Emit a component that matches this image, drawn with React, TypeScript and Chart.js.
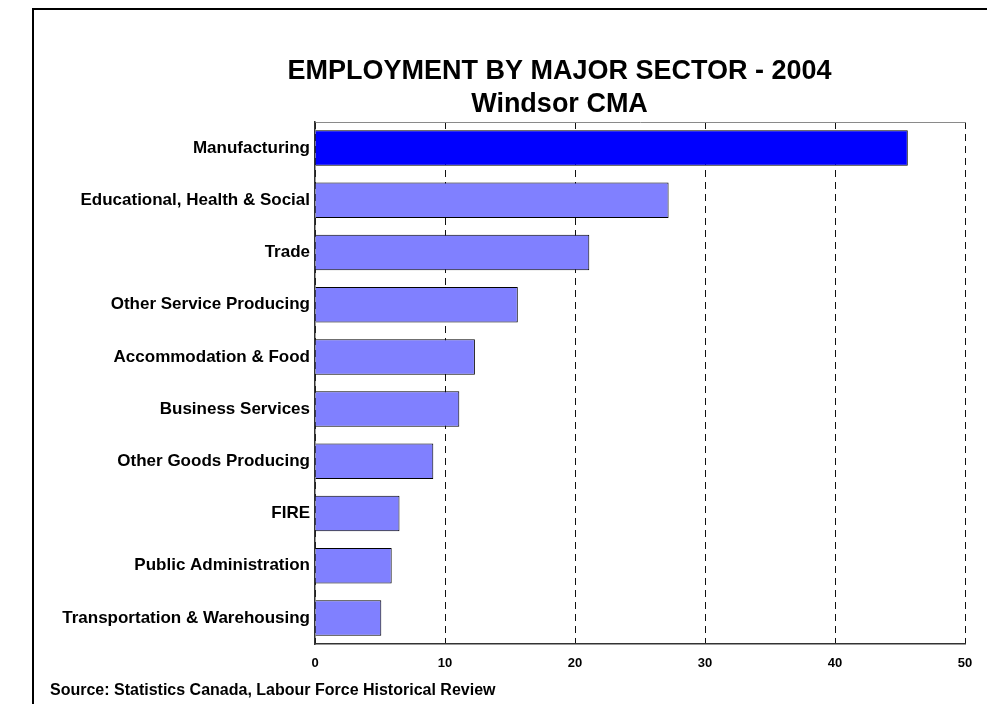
import React, { useEffect, useRef } from "react";
import { Chart, registerables } from "chart.js";

Chart.register(...registerables);

const titleLines = ["EMPLOYMENT BY MAJOR SECTOR - 2004", "Windsor CMA"];
const sourceText = "Source: Statistics Canada, Labour Force Historical Review";

const categories = [
  "Manufacturing",
  "Educational, Health & Social",
  "Trade",
  "Other Service Producing",
  "Accommodation & Food",
  "Business Services",
  "Other Goods Producing",
  "FIRE",
  "Public Administration",
  "Transportation & Warehousing",
];

const values = [45.6, 27.2, 21.1, 15.6, 12.3, 11.1, 9.1, 6.5, 5.9, 5.1];

const barColors = [
  "#0000FF",
  "#8080FF",
  "#8080FF",
  "#8080FF",
  "#8080FF",
  "#8080FF",
  "#8080FF",
  "#8080FF",
  "#8080FF",
  "#8080FF",
];

const xMin = 0;
const xMax = 50;
const xStep = 10;

const FONT = '"Liberation Sans", Arial, sans-serif';

const textPlugin = {
  id: "chartTexts",
  afterDraw(chart: any) {
    const ctx = chart.ctx;
    ctx.save();
    ctx.fillStyle = "#000";
    ctx.textBaseline = "alphabetic";
    ctx.textAlign = "center";
    ctx.font = `bold 27px ${FONT}`;
    ctx.fillText(titleLines[0], 525.5, 69);
    ctx.fillText(titleLines[1], 525.5, 102);
    ctx.font = `bold 16px ${FONT}`;
    ctx.textAlign = "left";
    ctx.textBaseline = "middle";
    ctx.fillText(sourceText, 16, 681);
    ctx.restore();
  },
};

export default function App() {
  const canvasRef = useRef<HTMLCanvasElement | null>(null);

  useEffect(() => {
    document.body.style.overflow = "hidden";
    const canvas = canvasRef.current;
    if (!canvas) return;
    const chart = new Chart(canvas, {
      type: "bar",
      data: {
        labels: categories,
        datasets: [
          {
            data: values,
            backgroundColor: barColors,
            borderColor: "#000",
            borderWidth: 1,
            barPercentage: 0.68,
            categoryPercentage: 1,
            xAxisID: "x",
          },
        ],
      },
      options: {
        indexAxis: "y",
        animation: false,
        responsive: false,
        devicePixelRatio: 1,
        layout: { padding: { left: 0, right: 24, top: 112, bottom: 0 } },
        plugins: {
          legend: { display: false },
          tooltip: { enabled: false },
          title: { display: false },
        },
        scales: {
          x: {
            type: "linear",
            position: "bottom",
            min: xMin,
            max: xMax,
            ticks: {
              stepSize: xStep,
              color: "#000",
              padding: 12,
              font: { family: FONT, size: 13, weight: "bold" },
            },
            grid: { color: "#111", lineWidth: 1, drawTicks: false },
            border: { display: true, color: "#333", width: 1.5, dash: [7, 5] },
            afterFit: (s: any) => {
              s.height = 60;
            },
          },
          x2: {
            type: "linear",
            axis: "x",
            position: "top",
            min: xMin,
            max: xMax,
            ticks: { display: false },
            grid: { display: false, drawTicks: false },
            border: { display: true, color: "#8a8a8a", width: 1 },
            afterFit: (s: any) => {
              s.height = 0;
            },
          },
          y: {
            type: "category",
            ticks: {
              color: "#000",
              padding: 5,
              autoSkip: false,
              font: { family: FONT, size: 17, weight: "bold" },
            },
            grid: { display: false, drawTicks: false },
            border: { display: true, color: "#333", width: 1.5 },
            afterFit: (s: any) => {
              s.width = 281;
            },
          },
        },
      } as any,
      plugins: [textPlugin],
    });
    return () => chart.destroy();
  }, []);

  return (
    <div
      style={{
        marginLeft: 24,
        width: 955,
        height: 694,
        borderLeft: "2px solid #000",
        borderTop: "2px solid #000",
      }}
    >
      <canvas
        ref={canvasRef}
        width={955}
        height={694}
        style={{ display: "block", width: 955, height: 694 }}
      />
    </div>
  );
}
